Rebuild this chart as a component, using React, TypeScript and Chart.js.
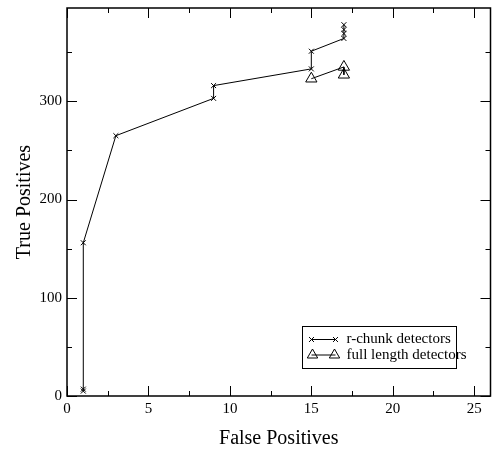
import React, { useEffect, useRef } from 'react';
import { Chart, registerables } from 'chart.js';

Chart.register(...registerables);

// ---- data ----
const rChunkFP = [1, 1, 1, 3, 9, 9, 15, 15, 17, 17, 17, 17];
const rChunkTP = [5, 7, 156, 265, 303, 316, 333, 351, 364, 369, 373, 378];
const fullFP = [15, 17, 17];
const fullTP = [323, 335, 327];

const xMajorTicks = [0, 5, 10, 15, 20, 25];
const xMinorTicks = [2.5, 7.5, 12.5, 17.5, 22.5];
const yMajorTicks = [0, 100, 200, 300];
const yMinorTicks = [50, 150, 250, 350];

const seriesNames = ['r-chunk detectors', 'full length detectors'];
const xTitle = 'False Positives';
const yTitle = 'True Positives';

const FONT = "'Liberation Serif', 'Times New Roman', serif";

function drawCross(ctx: CanvasRenderingContext2D, x: number, y: number, r: number) {
  const d = r * Math.SQRT1_2;
  ctx.beginPath();
  ctx.moveTo(x - d, y - d);
  ctx.lineTo(x + d, y + d);
  ctx.moveTo(x + d, y - d);
  ctx.lineTo(x - d, y + d);
  ctx.stroke();
}

function drawTriangle(ctx: CanvasRenderingContext2D, x: number, y: number, r: number) {
  ctx.beginPath();
  let rad = 0;
  ctx.moveTo(x + Math.sin(rad) * r, y - Math.cos(rad) * r);
  rad += (2 * Math.PI) / 3;
  ctx.lineTo(x + Math.sin(rad) * r, y - Math.cos(rad) * r);
  rad += (2 * Math.PI) / 3;
  ctx.lineTo(x + Math.sin(rad) * r, y - Math.cos(rad) * r);
  ctx.closePath();
  ctx.stroke();
}

const framePlugin = {
  id: 'frame',
  afterDraw(chart: any) {
    const { ctx, chartArea } = chart;
    const { left, right, top, bottom } = chartArea;
    const xs = chart.scales.x;
    const ys = chart.scales.y;
    ctx.save();
    ctx.strokeStyle = '#000';
    ctx.fillStyle = '#000';

    // frame
    ctx.lineWidth = 1.5;
    ctx.strokeRect(left, top, right - left, bottom - top);

    // tick marks on all four sides, inward
    ctx.lineWidth = 1;
    ctx.beginPath();
    const xt = (vals: number[], len: number) => {
      vals.forEach((v) => {
        const px = Math.round(xs.getPixelForValue(v)) + 0.5;
        ctx.moveTo(px, bottom);
        ctx.lineTo(px, bottom - len);
        ctx.moveTo(px, top);
        ctx.lineTo(px, top + len);
      });
    };
    const yt = (vals: number[], len: number) => {
      vals.forEach((v) => {
        const py = Math.round(ys.getPixelForValue(v)) + 0.5;
        ctx.moveTo(left, py);
        ctx.lineTo(left + len, py);
        ctx.moveTo(right, py);
        ctx.lineTo(right - len, py);
      });
    };
    xt(xMajorTicks, 10);
    xt(xMinorTicks, 5);
    yt(yMajorTicks, 10);
    yt(yMinorTicks, 5);
    ctx.stroke();

    // axis titles
    ctx.font = `20px ${FONT}`;
    ctx.textAlign = 'center';
    ctx.textBaseline = 'middle';
    ctx.fillText(xTitle, (left + right) / 2, 439);
    ctx.save();
    ctx.translate(25, (top + bottom) / 2);
    ctx.rotate(-Math.PI / 2);
    ctx.fillText(yTitle, 0, 0);
    ctx.restore();

    // legend box
    const bx = right - 189;
    const by = bottom - 70;
    const bw = 154;
    const bh = 42;
    ctx.lineWidth = 1;
    ctx.strokeRect(Math.round(bx) + 0.5, Math.round(by) + 0.5, bw, bh);
    const row1 = by + 13.5;
    const row2 = by + 29;
    const s1 = bx + 10;
    const s2 = bx + 34;
    ctx.beginPath();
    ctx.moveTo(s1, row1);
    ctx.lineTo(s2, row1);
    ctx.moveTo(s1, row2);
    ctx.lineTo(s2, row2);
    ctx.stroke();
    drawCross(ctx, s1, row1, 3.5);
    drawCross(ctx, s2, row1, 3.5);
    drawTriangle(ctx, s1 + 1, row2, 6);
    drawTriangle(ctx, s2 - 1, row2, 6);
    ctx.font = `15px ${FONT}`;
    ctx.textAlign = 'left';
    ctx.textBaseline = 'middle';
    ctx.fillText(seriesNames[0], bx + 45, row1);
    ctx.fillText(seriesNames[1], bx + 45, row2);
    ctx.restore();
  },
};

export default function App() {
  const ref = useRef<HTMLCanvasElement | null>(null);
  useEffect(() => {
    if (!ref.current) return;
    const chart = new Chart(ref.current, {
      type: 'scatter',
      data: {
        datasets: [
          {
            label: seriesNames[0],
            data: rChunkFP.map((x, i) => ({ x, y: rChunkTP[i] })),
            showLine: true,
            borderColor: '#000',
            backgroundColor: '#000',
            borderWidth: 1,
            pointStyle: 'crossRot',
            pointRadius: 3.5,
            pointBorderWidth: 1,
            pointBorderColor: '#000',
          },
          {
            label: seriesNames[1],
            data: fullFP.map((x, i) => ({ x, y: fullTP[i] })),
            showLine: true,
            borderColor: '#000',
            backgroundColor: 'rgba(0,0,0,0)',
            borderWidth: 1,
            pointStyle: 'triangle',
            pointRadius: 6.5,
            pointBorderWidth: 1,
            pointBorderColor: '#000',
            pointBackgroundColor: 'rgba(0,0,0,0)',
          },
        ],
      },
      options: {
        responsive: false,
        animation: false,
        devicePixelRatio: 1,
        layout: { padding: { top: 8, right: 6, left: 0, bottom: 0 } },
        plugins: {
          legend: { display: false },
          tooltip: { enabled: false },
          title: { display: false },
        },
        scales: {
          x: {
            type: 'linear',
            min: 0,
            max: 26,
            grid: { display: false, drawTicks: false },
            border: { display: false },
            ticks: {
              color: '#000',
              font: { family: FONT, size: 15 },
              padding: 4,
              autoSkip: false,
              maxRotation: 0,
            },
            afterBuildTicks: (s: any) => {
              s.ticks = xMajorTicks.map((v) => ({ value: v }));
            },
            afterFit: (s: any) => {
              s.height = 58;
              s.paddingLeft = 0;
              s.paddingRight = 0;
            },
          },
          y: {
            type: 'linear',
            min: 0,
            max: 395,
            grid: { display: false, drawTicks: false },
            border: { display: false },
            ticks: {
              color: '#000',
              font: { family: FONT, size: 15 },
              padding: 5,
              autoSkip: false,
            },
            afterBuildTicks: (s: any) => {
              s.ticks = yMajorTicks.map((v) => ({ value: v }));
            },
            afterFit: (s: any) => {
              s.width = 67;
              s.paddingTop = 0;
              s.paddingBottom = 0;
            },
          },
        },
      },
      plugins: [framePlugin],
    } as any);
    return () => chart.destroy();
  }, []);
  return (
    <div style={{ position: 'fixed', left: 0, top: 0, width: 498, height: 454, background: '#fff' }}>
      <canvas ref={ref} width={498} height={454} style={{ display: 'block' }} />
    </div>
  );
}
